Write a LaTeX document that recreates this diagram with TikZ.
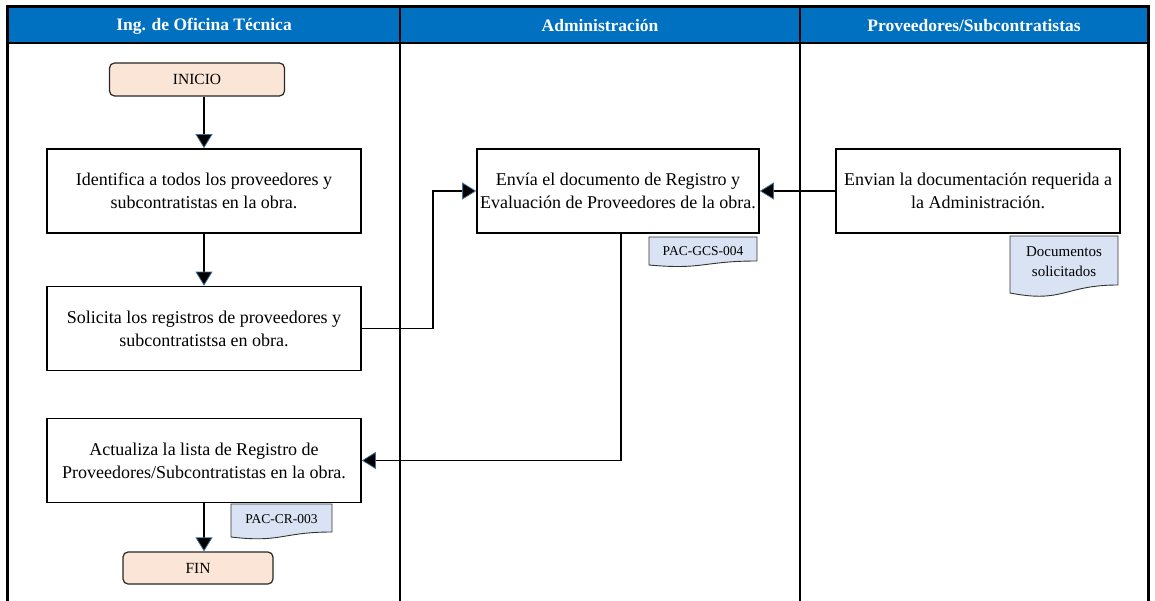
\documentclass[tikz,border=0pt]{standalone}
\usepackage{fontspec}
\setmainfont{Liberation Serif}
\usetikzlibrary{arrows.meta}
\definecolor{hdr}{HTML}{0070C0}
\definecolor{term}{HTML}{FBE5D6}
\definecolor{docf}{HTML}{DAE3F3}
\definecolor{tipc}{HTML}{41719C}
\begin{document}
\begin{tikzpicture}[x=1pt,y=-1pt,
  box/.style={draw, line width=1.6pt, minimum height=84pt, align=center,
    font=\fontsize{18}{23}\selectfont, inner sep=0pt},
  term/.style={draw=black!85, fill=term, line width=1.2pt, rounded corners=5pt,
    minimum height=33pt, font=\fontsize{15.5}{18}\selectfont, inner sep=0pt},
  hdrtxt/.style={text=white, font=\bfseries\fontsize{17.5}{20}\selectfont},
  docshape/.style={draw=black!80, fill=docf, line width=0.9pt},
  doctxt/.style={align=center, font=\fontsize{13.5}{17}\selectfont},
  arr/.style={line width=1.6pt, -{Triangle[length=14pt,width=17pt,fill=black,color=tipc,line width=0.8pt]}},
  lane/.style={line width=2.4pt}
]
\useasboundingbox (0,0) rectangle (1155,601);
% header
\fill[hdr] (7,7) rectangle (1148,43);
\draw[line width=3pt] (7,601) -- (7,7) -- (1148,7) -- (1148,601);
\draw[lane] (7,43) -- (1148,43);
\draw[lane] (400,7) -- (400,601);
\draw[lane] (800,7) -- (800,601);
\node[hdrtxt] (h1) at (204,26) {Ing. de Oficina Técnica};
\node[hdrtxt] (h2) at (600,26) {Administración};
\node[hdrtxt] (h3) at (974,26) {Proveedores/Subcontratistas};
% nodes
\node[term, minimum width=175pt] (inicio) at (197,79.5) {INICIO};
\node[box, minimum width=314pt] (b1) at (204,191) {Identifica a todos los proveedores y\\subcontratistas en la obra.};
\node[box, minimum width=314pt] (b2) at (204,328.5) {Solicita los registros de proveedores y\\subcontratistsa en obra.};
\node[box, minimum width=314pt] (b3) at (204,460.5) {Actualiza la lista de Registro de\\Proveedores/Subcontratistas en la obra.};
\node[term, minimum width=150pt, minimum height=32pt] (fin) at (198,568) {FIN};
\node[box, minimum width=282pt] (adm) at (618,191) {Envía el documento de Registro y\\Evaluación de Proveedores de la obra.};
\node[box, minimum width=284pt] (prov) at (978,191) {Envian la documentación requerida a\\la Administración.};
% documents
\path[docshape] (649,237) -- (757,237) -- (757,261) .. controls (703,261) and (703,270) .. (649,265) -- cycle;
\node[doctxt] (d1) at (703,251) {PAC-GCS-004};
\path[docshape] (1010,236) -- (1118,236) -- (1118,285) .. controls (1064,285) and (1064,303.5) .. (1010,293) -- cycle;
\node[doctxt, font=\fontsize{15}{20}\selectfont] (d2) at (1064,262) {Documentos\\solicitados};
\path[docshape] (231,504) -- (332,504) -- (332,532) .. controls (281.5,532) and (281.5,543) .. (231,537) -- cycle;
\node[doctxt] (d3) at (281.5,519) {PAC-CR-003};
% connectors
\draw[arr] (b1.north |- inicio.south) -- (b1.north);
\draw[arr] (b1.south) -- (b2.north);
\draw[arr] (b3.south) -- (b3.south |- fin.north);
\draw[arr] (b2.east) -- ++(71,0) |- (adm.west);
\draw[arr] (prov.west) -- (adm.east);
\draw[arr] ([xshift=3pt]adm.south) |- (b3.east);
\end{tikzpicture}
\end{document}
